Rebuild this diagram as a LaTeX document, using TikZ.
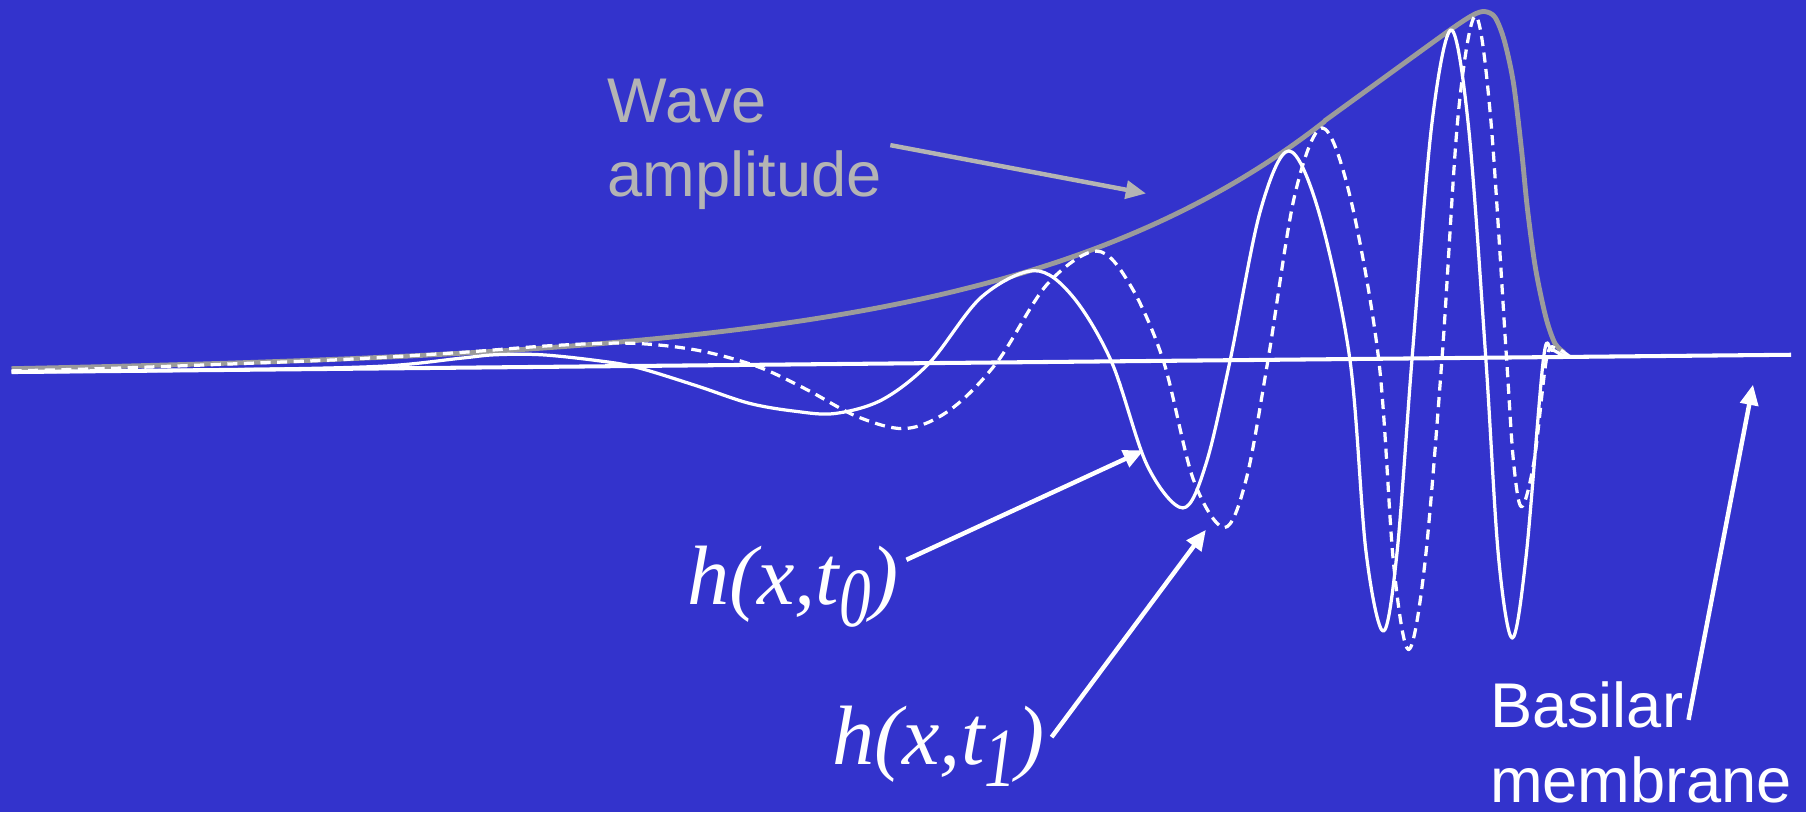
\documentclass[tikz,border=0pt]{standalone}
\usepackage{fontspec}
\usepackage{graphicx}
\setmainfont{Liberation Serif}
\newfontfamily\arialfont{Liberation Sans}
\usetikzlibrary{arrows.meta}
\definecolor{bg}{RGB}{51,51,204}
\definecolor{envgray}{RGB}{155,155,155}
\definecolor{labgray}{RGB}{180,180,180}
\begin{document}
\begin{tikzpicture}[x=0.01cm,y=-0.01cm,
  lab/.style={inner sep=0pt, anchor=base west, font=\arialfont\fontsize{15.6pt}{18pt}\selectfont},
  mathlab/.style={inner sep=0pt, anchor=base west, text=white, font=\fontsize{20.8pt}{24pt}\selectfont\itshape},
  ptr/.style={line width=1.1pt, -{Triangle[length=5pt,width=4.4pt]}},
  wave/.style={white, line width=0.8pt, line join=round},
  dwave/.style={wave, dash pattern=on 2.5pt off 1.6pt},
  env/.style={envgray, line width=1.2pt, line join=round},
  base/.style={white, line width=1pt}
  ]
\fill[bg] (0,0) rectangle (1568,705);
\useasboundingbox (0,0) rectangle (1568,705);

% envelope (wave amplitude)
\draw[env] plot[domain=10:1150, samples=120, smooth]
   (\x, {323-0.0097*(\x-10) - 82*exp(0.00374*(\x-903))})
 -- plot[smooth, tension=0.5] coordinates {
 (1150,105) (1201,68) (1259,26) (1279,13) (1289,10)
 (1298,15) (1306,35) (1314,72) (1321,130) (1326,180) (1333,232) (1342,275) (1350,298) (1358,306) };

% basilar membrane (rest line)
\coordinate (bl) at (10,323);
\coordinate (br) at (1555,308);
\draw[base] (bl) -- (br);

% h(x,t0) solid
\draw[wave] plot[smooth, tension=0.55] coordinates {
 (10,323) (200,321) (330,318) (400,311) (430,308) (470,308) (518,313) (553,319)
 (605,335) (650,350) (690,357) (725,359) (766,347) (807,315) (852,258) (898,235)
 (931,257) (965,314) (996,404) (1027,441) (1047,403) (1068,313) (1094,184) (1119,131)
 (1145,184) (1172,312) (1186,479) (1201,548) (1213,479) (1226,311) (1243,109) (1260,26)
 (1275,110) (1290,311) (1301,483) (1313,554) (1325,483) (1340,312) (1347,304) (1356,308) (1366,310) };

% h(x,t1) dashed
\draw[dwave] plot[smooth, tension=0.55] coordinates {
 (10,322) (90,320) (200,316) (300,312) (400,306) (480,300) (548,298) (605,304) (657,318)
 (700,338) (745,362) (787,372) (826,355) (866,314) (909,247) (952,218) (981,247) (1010,313)
 (1036,416) (1063,458) (1082,416) (1101,312) (1124,170) (1148,111) (1172,170) (1197,312)
 (1210,490) (1223,564) (1237,490) (1252,311) (1266,100) (1281,14) (1294,100) (1308,311)
 (1314,400) (1321,440) (1332,400) (1343,310) (1352,303) (1362,309) };

% labels
\node[lab, text=labgray] (wave) at (527,106) {Wave};
\node[lab, text=labgray] (ampl) at (527,171) {amplitude};
\node[mathlab] (h0) at (596,525) {h(x,t\raisebox{-5.4pt}{\scalebox{0.75}[1]{0}})};
\node[mathlab] (h1) at (722,664) {h(x,t\raisebox{-5.4pt}{\scalebox{0.75}[1]{1}})};
\node[lab, text=white] (bas) at (1293,632) {Basilar};
\node[lab, text=white] (mem) at (1293,697) {membrane};

% pointers
\coordinate (wa0) at (773,126);
\coordinate (wa1) at (995,168);
\coordinate (h0s) at (787,486);
\coordinate (h0t) at (993,391);
\coordinate (h1s) at (913,640);
\coordinate (h1t) at (1047,460);
\coordinate (bms) at (1466,625);
\coordinate (bmt) at (1522,334);
\draw[ptr, labgray] (wa0) -- (wa1);
\draw[ptr, white] (h0s) -- (h0t);
\draw[ptr, white] (h1s) -- (h1t);
\draw[ptr, white] (bms) -- (bmt);
\end{tikzpicture}
\end{document}
